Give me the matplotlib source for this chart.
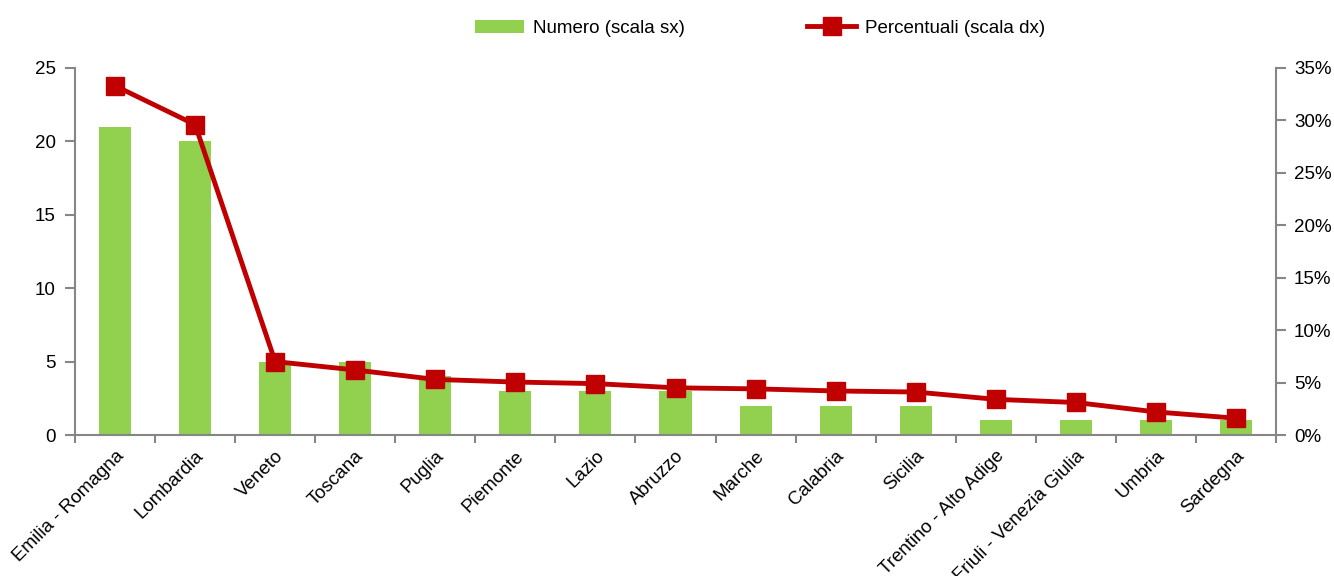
import matplotlib
matplotlib.use("Agg")
import matplotlib.pyplot as plt
from matplotlib.ticker import FuncFormatter, FixedLocator
import numpy as np

regions = ["Emilia - Romagna", "Lombardia", "Veneto", "Toscana", "Puglia", "Piemonte",
           "Lazio", "Abruzzo", "Marche", "Calabria", "Sicilia", "Trentino - Alto Adige",
           "Friuli - Venezia Giulia", "Umbria", "Sardegna"]
numero = [21, 20, 5, 5, 4, 3, 3, 3, 2, 2, 2, 1, 1, 1, 1]
percentuali = [33.3, 29.6, 7.0, 6.2, 5.3, 5.05, 4.9, 4.5, 4.4, 4.2, 4.1, 3.4, 3.1, 2.2, 1.6]

plt.rcParams['font.family'] = ['Liberation Sans', 'DejaVu Sans']
GREEN = "#92D050"
RED = "#C00000"
GRAY = "#868686"
FS = 13.5

fig = plt.figure(figsize=(13.34, 5.76), dpi=100)
ax = fig.add_axes([75/1334, 1-435/576, (1276-75)/1334, (435-68)/576])
ax2 = ax.twinx()

x = np.arange(len(regions))
bars = ax.bar(x, numero, width=0.4, color=GREEN, zorder=2, label="Numero (scala sx)")
line, = ax2.plot(x, percentuali, color=RED, lw=3.5, marker='s', markersize=13,
                 markerfacecolor=RED, markeredgecolor=RED, zorder=3,
                 label="Percentuali (scala dx)")

ax.set_xlim(-0.5, len(regions) - 0.5)
ax.set_ylim(0, 25)
ax.set_yticks([0, 5, 10, 15, 20, 25])
ax2.set_ylim(0, 35)
ax2.set_yticks([0, 5, 10, 15, 20, 25, 30, 35])
ax2.yaxis.set_major_formatter(FuncFormatter(lambda v, p: f"{int(v)}%"))

ax.set_xticks(x)
ax.set_xticklabels(regions, rotation=45, ha='right', rotation_mode='anchor', fontsize=FS)
ax.tick_params(axis='x', which='major', length=0, pad=9)
ax.xaxis.set_minor_locator(FixedLocator(np.arange(-0.5, len(regions), 1.0)))
ax.tick_params(axis='x', which='minor', length=6, color=GRAY, width=1.5, direction='out')
ax.tick_params(axis='y', length=7, color=GRAY, width=1.5, labelsize=FS, pad=7)
ax2.tick_params(axis='y', length=7, color=GRAY, width=1.5, labelsize=FS, pad=6)

for a in (ax, ax2):
    a.spines['top'].set_visible(False)
    for s in ('left', 'right', 'bottom'):
        a.spines[s].set_color(GRAY)
        a.spines[s].set_linewidth(1.5)
ax.spines['right'].set_visible(False)
ax2.spines['left'].set_visible(False)
ax2.spines['bottom'].set_visible(False)

fig.legend([bars, line], ["Numero (scala sx)", "Percentuali (scala dx)"],
           loc='center', bbox_to_anchor=(0.57, 0.951), ncol=2, frameon=False,
           fontsize=FS, columnspacing=6.5, handlelength=2.6, handletextpad=0.5)

fig.savefig("out.png", dpi=100)
